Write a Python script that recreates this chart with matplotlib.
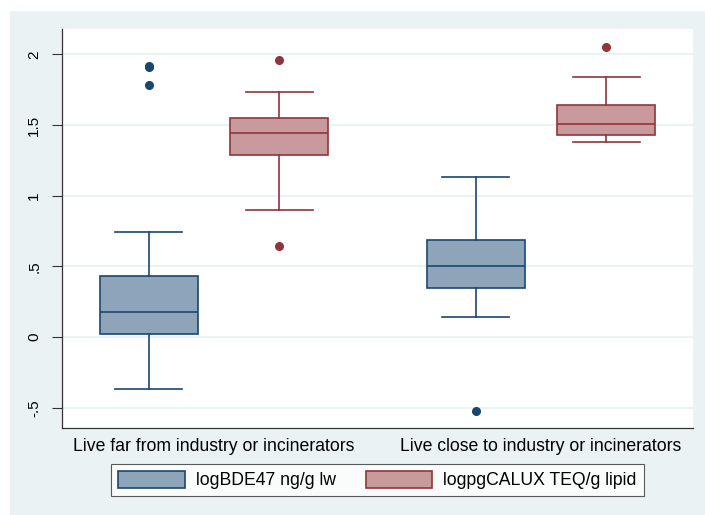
import matplotlib
matplotlib.use("Agg")
import matplotlib.pyplot as plt
from matplotlib.patches import Rectangle, Patch

plt.rcParams['font.family'] = ['Liberation Sans', 'DejaVu Sans']

# categories / series
groups = ["Live far from industry or incinerators", "Live close to industry or incinerators"]
series = ["logBDE47 ng/g lw", "logpgCALUX TEQ/g lipid"]

# box statistics: [whislo, q1, med, q3, whishi]
bde_stats = [[-0.37, 0.02, 0.18, 0.43, 0.74],
             [0.14, 0.35, 0.50, 0.685, 1.13]]
calux_stats = [[0.90, 1.29, 1.44, 1.55, 1.73],
               [1.38, 1.43, 1.51, 1.64, 1.84]]
bde_fliers = [[1.78, 1.91, 1.92], [-0.52]]
calux_fliers = [[0.645, 1.96], [2.055]]

yticks = [-0.5, 0, 0.5, 1, 1.5, 2]
yticklabels = ["-.5", "0", ".5", "1", "1.5", "2"]

edge_cols = ["#1a476f", "#90353b"]
fill_cols = ["#8ea4b8", "#c89a9d"]
bg = "#eaf2f3"

fig = plt.figure(figsize=(7.05, 5.15), dpi=100)
fig.patch.set_facecolor("white")
fig.patches.append(Rectangle((10 / 705, 0), 1, (515 - 11) / 515,
                             transform=fig.transFigure, facecolor=bg,
                             edgecolor="none", zorder=-10))

ax = fig.add_axes([62 / 705, 1 - 428 / 515, 631 / 705, 399 / 515])
ax.set_facecolor("white")


def make_stats(vals, fl):
    out = []
    for v, f in zip(vals, fl):
        out.append(dict(whislo=v[0], q1=v[1], med=v[2], q3=v[3], whishi=v[4], fliers=f))
    return out


offset = 0.2
for i, (stats, fl) in enumerate([(bde_stats, bde_fliers), (calux_stats, calux_fliers)]):
    pos = [g + 1 + (offset if i else -offset) for g in range(len(groups))]
    ec, fc = edge_cols[i], fill_cols[i]
    ax.bxp(make_stats(stats, fl), positions=pos, widths=0.3, capwidths=0.205,
           patch_artist=True, showfliers=True,
           boxprops=dict(facecolor=fc, edgecolor=ec, linewidth=1.2),
           medianprops=dict(color=ec, linewidth=1.2),
           whiskerprops=dict(color=ec, linewidth=1.2),
           capprops=dict(color=ec, linewidth=1.2),
           flierprops=dict(marker="o", markerfacecolor=ec, markeredgecolor=ec, markersize=5.5))

ax.set_xlim(0.535, 2.465)
ax.set_ylim(-0.643, 2.179)
ax.set_yticks(yticks)
ax.set_yticklabels(yticklabels, rotation=90, va="center", fontsize=11)
ax.set_xticks([1, 2])
ax.set_xticklabels(groups, fontsize=12.7)
ax.tick_params(axis="x", length=0, pad=7)
ax.tick_params(axis="y", length=7, width=0.8, color="#333333", pad=8)
ax.grid(axis="y", color=bg, linewidth=1.5)
ax.set_axisbelow(True)
for s in ["top", "right"]:
    ax.spines[s].set_visible(False)
for s in ["left", "bottom"]:
    ax.spines[s].set_color("#333333")
    ax.spines[s].set_linewidth(0.9)

handles = [Patch(facecolor=fill_cols[i], edgecolor=edge_cols[i], linewidth=1.2) for i in range(2)]
leg = fig.legend(handles, series, loc="center", bbox_to_anchor=(377.5 / 705, 1 - 480 / 515),
                 ncol=2, fontsize=12.7, frameon=True, fancybox=False,
                 handlelength=3.75, handleheight=1.1, handletextpad=0.65,
                 columnspacing=1.67, borderpad=0.4)
leg.get_frame().set_edgecolor("#333333")
leg.get_frame().set_linewidth(0.8)

fig.savefig("out.png", dpi=100, facecolor=fig.get_facecolor())
